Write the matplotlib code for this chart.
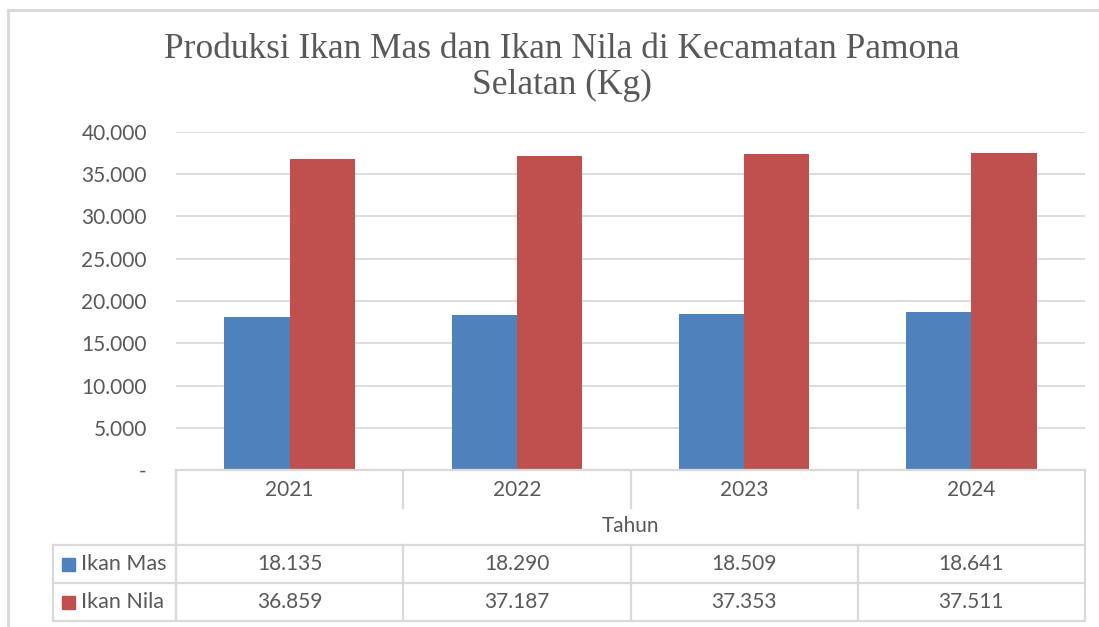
import matplotlib
matplotlib.use("Agg")
import matplotlib.pyplot as plt
from matplotlib.lines import Line2D
from matplotlib.patches import Rectangle

years = ["2021", "2022", "2023", "2024"]
ikan_mas = [18135, 18290, 18509, 18641]
ikan_nila = [36859, 37187, 37353, 37511]
series_names = ["Ikan Mas", "Ikan Nila"]
yticks = [0, 5000, 10000, 15000, 20000, 25000, 30000, 35000, 40000]
title_lines = ["Produksi Ikan Mas dan Ikan Nila di Kecamatan Pamona", "Selatan (Kg)"]
xlabel = "Tahun"

BLUE = "#4F81BD"
RED = "#C0504D"
GRID = "#D9D9D9"
TXT = "#595959"
FONT = "Lato"
FS = 15

W, H = 1099, 627
fig = plt.figure(figsize=(W / 100, H / 100), dpi=100)

def fx(px):
    return px / W

def fy(py):
    return 1 - py / H

# chart border (screenshot frame)
fig.add_artist(Line2D([fx(8), fx(1099)], [fy(10), fy(10)], color=GRID, lw=2.2, transform=fig.transFigure))
fig.add_artist(Line2D([fx(8), fx(8)], [fy(10), fy(627)], color=GRID, lw=2.2, transform=fig.transFigure))

L, R, T, B = 176, 1085, 132, 470
ax = fig.add_axes([fx(L), fy(B), fx(R) - fx(L), fy(T) - fy(B)])
ax.set_xlim(-0.5, len(years) - 0.5)
ax.set_ylim(0, 40000)

bw = 0.287
xs = list(range(len(years)))
ax.bar([x - bw / 2 for x in xs], ikan_mas, width=bw, color=BLUE, zorder=3)
ax.bar([x + bw / 2 for x in xs], ikan_nila, width=bw, color=RED, zorder=3)

ax.set_yticks(yticks)
ax.set_yticklabels(["-" if v == 0 else f"{v:,}".replace(",", ".") for v in yticks])
ax.tick_params(axis="y", length=0, pad=21, labelsize=FS, labelcolor=TXT)
for lab in ax.get_yticklabels():
    lab.set_fontfamily(FONT)
ax.set_xticks([])
ax.grid(axis="y", color=GRID, lw=1.3, zorder=0)
for s in ax.spines.values():
    s.set_visible(False)

for yy, t in zip((49, 85), title_lines):
    fig.text(fx(562), fy(yy), t, ha="center", va="center", fontsize=25.5, color=TXT,
             family="Liberation Serif")

# data table
def line(x0, x1, y0, y1):
    fig.add_artist(Line2D([fx(x0), fx(x1)], [fy(y0), fy(y1)], color=GRID, lw=1.6, transform=fig.transFigure))

col_edges = [L + (R - L) * i / len(years) for i in range(len(years) + 1)]
line(L, R, B, B)
for i, xe in enumerate(col_edges):
    if i in (0, len(years)):
        line(xe, xe, B, 621)
    else:
        line(xe, xe, B, 508)
        line(xe, xe, 545, 621)
for yy in (545, 583, 621):
    line(53, R, yy, yy)
line(53, 53, 545, 621)

for i, yr in enumerate(years):
    cx = (col_edges[i] + col_edges[i + 1]) / 2
    fig.text(fx(cx), fy(490), yr, ha="center", va="center", fontsize=FS, color=TXT, family=FONT)
    fig.text(fx(cx), fy(564), f"{ikan_mas[i]:,}".replace(",", "."), ha="center", va="center",
             fontsize=FS, color=TXT, family=FONT)
    fig.text(fx(cx), fy(602), f"{ikan_nila[i]:,}".replace(",", "."), ha="center", va="center",
             fontsize=FS, color=TXT, family=FONT)
fig.text(fx((L + R) / 2), fy(526), xlabel, ha="center", va="center", fontsize=FS, color=TXT, family=FONT)

for yy, name, col in ((564, series_names[0], BLUE), (602, series_names[1], RED)):
    fig.add_artist(Rectangle((fx(62), fy(yy + 6.5)), fx(13), fy(0) - fy(13), color=col,
                             transform=fig.transFigure))
    fig.text(fx(81), fy(yy), name, ha="left", va="center", fontsize=FS + 0.5, color=TXT, family=FONT)

fig.savefig("out.png", dpi=100, facecolor="white")
